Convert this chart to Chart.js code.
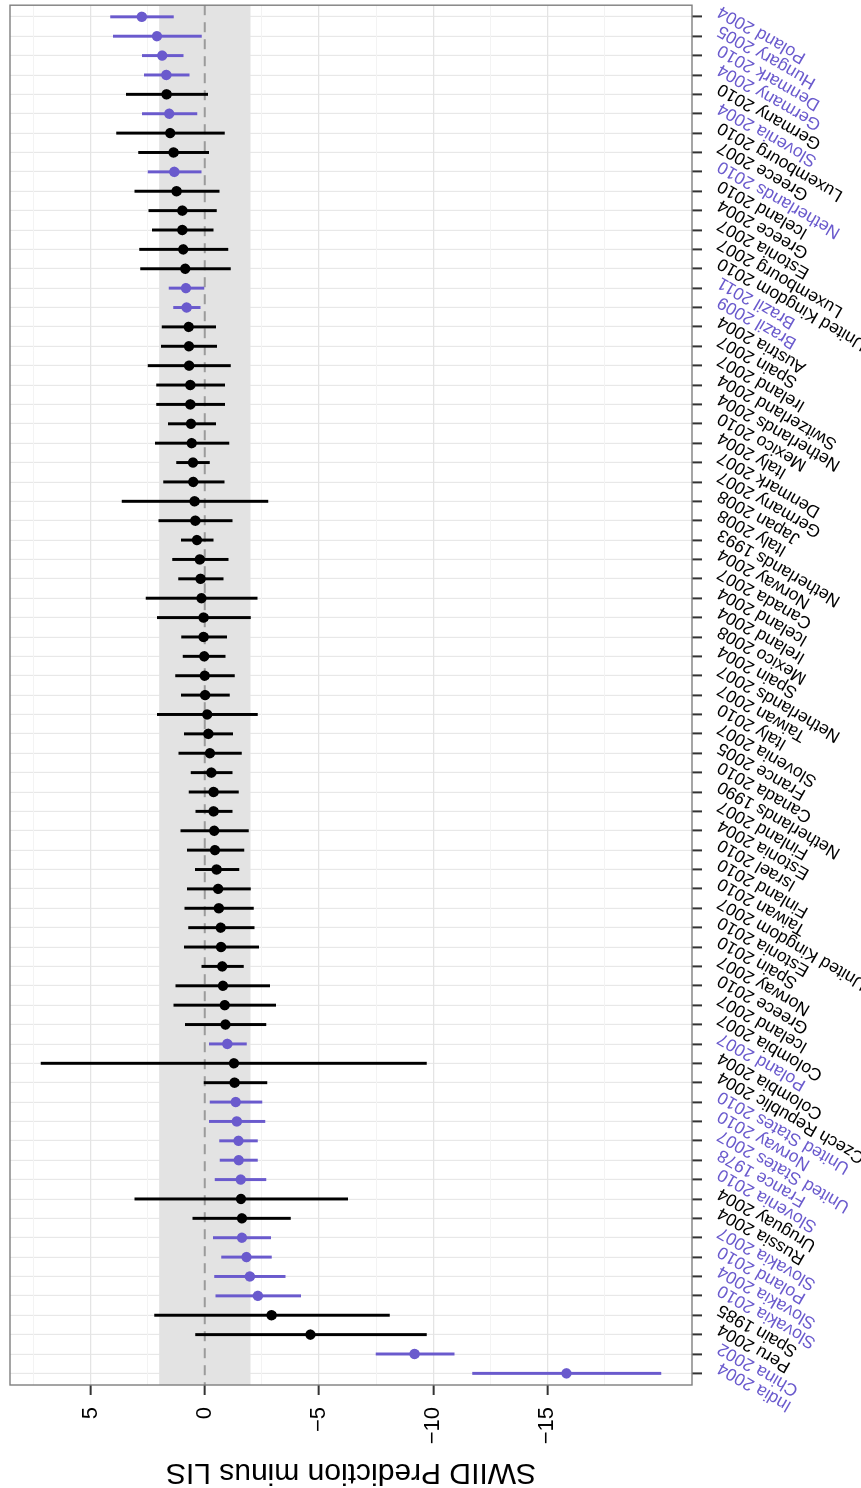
<!DOCTYPE html>
<html>
<head>
<meta charset="utf-8">
<script src="https://cdn.jsdelivr.net/npm/chart.js@4.4.1/dist/chart.umd.min.js"></script>
<style>
  html, body { margin: 0; padding: 0; background: #fff; overflow: hidden; width: 861px; height: 1488px; }
  /* the chart is laid out landscape and turned a quarter to the left */
  #wrap { position: absolute; left: 0; top: 0; width: 1488px; height: 861px;
          transform-origin: 0 0; transform: translateY(1488px) rotate(-90deg); }
  canvas { display: block; }
</style>
</head>
<body>
<div id="wrap"><canvas id="chart" width="1488" height="861"></canvas></div>
<script>
const countries = [
  'Poland 2004', 'Hungary 2005', 'Denmark 2010', 'Germany 2004', 'Germany 2010',
  'Slovenia 2004', 'Luxembourg 2010', 'Greece 2007', 'Netherlands 2010', 'Iceland 2010',
  'Greece 2004', 'Estonia 2007', 'Luxembourg 2007', 'United Kingdom 2010', 'Brazil 2011',
  'Brazil 2009', 'Austria 2004', 'Spain 2007', 'Ireland 2007', 'Switzerland 2004',
  'Netherlands 2004', 'Mexico 2010', 'Italy 2004', 'Denmark 2007', 'Germany 2007',
  'Japan 2008', 'Italy 2008', 'Netherlands 1993', 'Norway 2004', 'Canada 2007',
  'Iceland 2004', 'Ireland 2004', 'Mexico 2008', 'Spain 2004', 'Netherlands 2007',
  'Taiwan 2007', 'Italy 2010', 'Slovenia 2007', 'France 2005', 'Canada 2010',
  'Netherlands 1990', 'Finland 2007', 'Estonia 2004', 'Israel 2010', 'Finland 2010',
  'Taiwan 2010', 'United Kingdom 2007', 'Estonia 2010', 'Spain 2010', 'Norway 2007',
  'Greece 2010', 'Iceland 2007', 'Colombia 2007', 'Poland 2007', 'Colombia 2004',
  'Czech Republic 2004', 'United States 2010', 'Norway 2010', 'United States 2007', 'France 1978',
  'Slovenia 2010', 'Uruguay 2004', 'Russia 2004', 'Slovakia 2007', 'Poland 2010',
  'Slovakia 2004', 'Slovakia 2010', 'Spain 1985', 'Peru 2004', 'China 2002',
  'India 2004'
];
const estimate = [
  2.76, 2.10, 1.87, 1.69, 1.68, 1.56, 1.52, 1.37, 1.34, 1.24,
  0.99, 0.99, 0.95, 0.86, 0.83, 0.80, 0.71, 0.70, 0.69, 0.64,
  0.64, 0.61, 0.58, 0.52, 0.51, 0.45, 0.42, 0.35, 0.22, 0.19,
  0.15, 0.06, 0.06, 0.03, 0.01, -0.01, -0.10, -0.15, -0.22, -0.28,
  -0.38, -0.38, -0.41, -0.44, -0.51, -0.58, -0.61, -0.69, -0.71, -0.76,
  -0.79, -0.87, -0.90, -0.98, -1.27, -1.30, -1.35, -1.40, -1.47, -1.48,
  -1.57, -1.58, -1.62, -1.62, -1.82, -1.97, -2.32, -2.92, -4.62, -9.18,
  -15.83
];
const lower = [
  1.38, 0.15, 0.95, 0.69, -0.13, 0.35, -0.86, -0.17, 0.16, -0.63,
  -0.51, -0.36, -1.01, -1.12, 0.04, 0.20, -0.47, -0.52, -1.12, -0.87,
  -0.87, -0.47, -1.06, -0.20, -0.85, -2.76, -1.20, -0.36, -1.02, -0.80,
  -2.29, -2.00, -0.96, -0.89, -1.30, -1.08, -2.30, -1.22, -1.60, -1.20,
  -1.47, -1.20, -1.91, -1.71, -1.49, -2.00, -2.13, -2.16, -2.36, -1.69,
  -2.84, -3.10, -2.67, -1.82, -9.70, -2.72, -2.50, -2.63, -2.30, -2.30,
  -2.68, -6.25, -3.75, -2.88, -2.92, -3.52, -4.20, -8.08, -9.70, -10.92,
  -19.97
];
const upper = [
  4.13, 4.01, 2.74, 2.65, 3.44, 2.74, 3.86, 2.90, 2.48, 3.06,
  2.45, 2.30, 2.86, 2.81, 1.57, 1.37, 1.87, 1.90, 2.48, 2.11,
  2.11, 1.60, 2.17, 1.24, 1.81, 3.62, 2.01, 1.03, 1.41, 1.15,
  2.57, 2.08, 1.02, 0.95, 1.28, 1.03, 2.08, 0.90, 1.14, 0.60,
  0.69, 0.39, 1.05, 0.77, 0.42, 0.77, 0.87, 0.71, 0.90, 0.13,
  1.27, 1.36, 0.85, -0.20, 7.17, 0.03, -0.23, -0.20, -0.65, -0.67,
  -0.45, 3.07, 0.53, -0.37, -0.73, -0.43, -0.48, 2.20, 0.40, -7.50,
  -11.72
];
// 1 = drawn in purple, 0 = black
const flagged = [
  1, 1, 1, 1, 0, 1, 0, 0, 1, 0,
  0, 0, 0, 0, 1, 1, 0, 0, 0, 0,
  0, 0, 0, 0, 0, 0, 0, 0, 0, 0,
  0, 0, 0, 0, 0, 0, 0, 0, 0, 0,
  0, 0, 0, 0, 0, 0, 0, 0, 0, 0,
  0, 0, 0, 1, 0, 0, 1, 1, 1, 1,
  1, 0, 0, 1, 1, 1, 1, 0, 0, 1,
  1
];
const majorTicks = [-15, -10, -5, 0, 5];
const minorTicks = [-17.5, -12.5, -7.5, -2.5, 2.5, 7.5];
const bandLo = -2;
const bandHi = 2;
const valueMin = -21.33;
const valueMax = 8.53;

const PURPLE = '#6a5acd';
const FONT = "'Liberation Sans', Arial, Helvetica, sans-serif";
const n = countries.length;
const colorOf = (i) => flagged[i] ? PURPLE : '#000000';
const rowAt = (pos) => n - pos;  // Poland sits at the far end of the axis

const pointData = estimate.map((v, i) => ({ x: n - i, y: v }));
const barData = lower.map((lo, i) => ({ x: n - i, y: [lo, upper[i]] }));
const colors = countries.map((c, i) => colorOf(i));

const panel = {
  id: 'panel',
  beforeDatasetsDraw(chart) {
    const { ctx, chartArea: a, scales: { y } } = chart;
    const top = y.getPixelForValue(bandHi);
    const bottom = y.getPixelForValue(bandLo);
    ctx.save();
    ctx.fillStyle = '#e3e3e3';
    ctx.fillRect(a.left, top, a.right - a.left, bottom - top);
    const zero = y.getPixelForValue(0);
    ctx.strokeStyle = '#9b9b9b';
    ctx.lineWidth = 2;
    ctx.setLineDash([10, 7]);
    ctx.beginPath();
    ctx.moveTo(a.right, zero);
    ctx.lineTo(a.left, zero);
    ctx.stroke();
    ctx.restore();
  },
  afterDatasetsDraw(chart) {
    const { ctx, chartArea: a } = chart;
    ctx.save();
    ctx.strokeStyle = '#7f7f7f';
    ctx.lineWidth = 1.4;
    ctx.strokeRect(a.left, a.top, a.right - a.left, a.bottom - a.top);
    ctx.restore();
  }
};

new Chart(document.getElementById('chart'), {
  type: 'bar',
  data: {
    datasets: [
      {
        type: 'line',
        data: pointData,
        showLine: false,
        pointRadius: 5.2,
        pointHoverRadius: 5.2,
        pointBorderWidth: 0,
        pointBackgroundColor: colors,
        borderColor: colors,
        order: 0
      },
      {
        type: 'bar',
        data: barData,
        backgroundColor: colors,
        borderWidth: 0,
        barThickness: 2.3,
        order: 1
      }
    ]
  },
  options: {
    responsive: false,
    animation: false,
    events: [],
    layout: { padding: { left: 0, top: 10, right: 4.7, bottom: 0 } },
    plugins: { legend: { display: false }, tooltip: { enabled: false } },
    scales: {
      x: {
        type: 'linear',
        position: 'bottom',
        min: 0.4,
        max: n + 0.6,
        offset: false,
        afterBuildTicks: (s) => { s.ticks = countries.map((c, i) => ({ value: i + 1 })); },
        afterFit: (s) => { s.height = 169; s.paddingLeft = 0; s.paddingRight = 0; },
        ticks: {
          autoSkip: false,
          minRotation: 60,
          maxRotation: 60,
          labelOffset: 7,
          padding: 12,
          font: { family: FONT, size: 17.5 },
          color: (ctx) => colorOf(rowAt(ctx.tick.value)),
          callback: (v) => countries[rowAt(v)]
        },
        grid: {
          offset: false,
          color: '#e8e8e8',
          lineWidth: 1.2,
          tickColor: '#333333',
          tickWidth: 2,
          tickLength: 10
        },
        border: { display: false }
      },
      y: {
        type: 'linear',
        min: valueMin,
        max: valueMax,
        afterBuildTicks: (s) => {
          s.ticks = majorTicks.concat(minorTicks).sort((a, b) => a - b).map((v) => ({ value: v }));
        },
        afterFit: (s) => { s.width = 103; s.paddingTop = 0; s.paddingBottom = 0; },
        ticks: {
          padding: 12,
          font: { family: FONT, size: 22 },
          color: '#000000',
          callback: (v) => majorTicks.includes(v) ? (v < 0 ? '\u2212' + Math.abs(v) : String(v)) : ''
        },
        grid: {
          color: (ctx) => majorTicks.includes(ctx.tick.value) ? '#e4e4e4' : '#f3f3f3',
          lineWidth: (ctx) => majorTicks.includes(ctx.tick.value) ? 1.3 : 1,
          tickColor: (ctx) => majorTicks.includes(ctx.tick.value) ? '#333333' : 'rgba(0,0,0,0)',
          tickWidth: 2,
          tickLength: 10
        },
        border: { display: false },
        title: {
          display: true,
          text: 'SWIID Prediction minus LIS',
          color: '#000000',
          font: { family: FONT, size: 30, lineHeight: 1 },
          padding: { top: 1, bottom: 0 }
        }
      }
    }
  },
  plugins: [panel]
});
</script>
</body>
</html>
